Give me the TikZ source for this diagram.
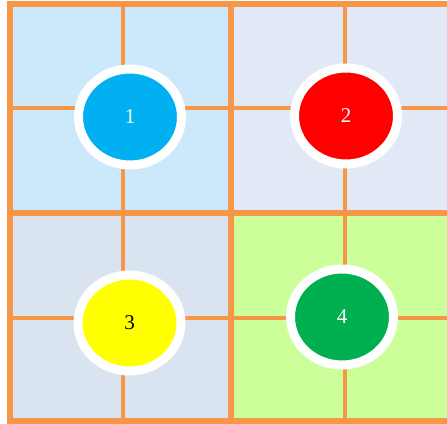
\documentclass[tikz,border=0pt]{standalone}
\usepackage{fontspec}
\setmainfont{Liberation Serif}
\usetikzlibrary{shapes.geometric,shadows}
\definecolor{gridor}{HTML}{F79646}
\definecolor{qtl}{HTML}{CCE8FB}
\definecolor{qtr}{HTML}{E1E9F6}
\definecolor{qbl}{HTML}{DAE3F0}
\definecolor{qbr}{HTML}{CCFF99}
\definecolor{cblue}{HTML}{00B0F0}
\definecolor{cred}{HTML}{FF0000}
\definecolor{cyel}{HTML}{FFFF00}
\definecolor{cgreen}{HTML}{00B050}
\newcommand{\disclabel}[1]{\fontsize{21}{21}\selectfont #1}
\tikzset{
  minorline/.style={draw=gridor, line width=4pt},
  majorline/.style={draw=gridor, line width=5.5pt},
  disc/.style={ellipse, draw=white, line width=9pt, minimum width=103pt, minimum height=96pt, inner sep=0pt,
    drop shadow={opacity=0.35, shadow xshift=1.5pt, shadow yshift=-3.5pt, fill=gray}},
}
\begin{document}
\begin{tikzpicture}[x=1pt,y=-1pt]
\useasboundingbox (0,0) rectangle (447,423);
\fill[white] (0,0) rectangle (447,423);
% quadrant fills
\fill[qtl] (10,4) rectangle (231,213);
\fill[qtr] (231,4) rectangle (460,213);
\fill[qbl] (10,213) rectangle (231,421);
\fill[qbr] (231,213) rectangle (460,421);
% minor lines
\draw[minorline] (123,4) -- (123,421);
\draw[minorline] (345,4) -- (345,421);
\draw[minorline] (10,108) -- (460,108);
\draw[minorline] (10,318) -- (460,318);
% major lines
\draw[majorline] (231,4) -- (231,421);
\draw[majorline] (10,213) -- (460,213);
% border
\draw[majorline] (460,4) -- (10,4) -- (10,421) -- (460,421);
% discs
\node[disc, fill=cblue, text=white] (n1) at (130,117) {\disclabel{1}};
\node[disc, fill=cred, text=white] (n2) at (346,116) {\disclabel{2}};
\node[disc, fill=cyel, text=black] (n3) at (129.5,323) {\disclabel{3}};
\node[disc, fill=cgreen, text=white] (n4) at (342,317) {\disclabel{4}};
\end{tikzpicture}
\end{document}
